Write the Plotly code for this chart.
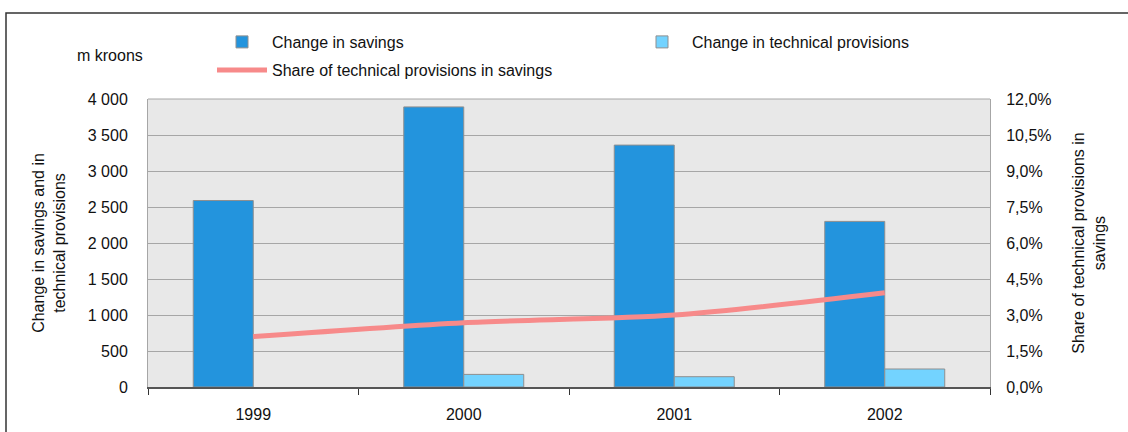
import plotly.graph_objects as go

years = ["1999", "2000", "2001", "2002"]
change_savings = [2590, 3890, 3360, 2300]
change_tech = [None, 175, 143, 250]
share_tech = [0.021, 0.0268, 0.030, 0.0393]

left_ticks = [0, 500, 1000, 1500, 2000, 2500, 3000, 3500, 4000]
right_ticks = [0, 0.015, 0.03, 0.045, 0.06, 0.075, 0.09, 0.105, 0.12]

FONT = "Liberation Sans, Arial, sans-serif"
FS = 16
W, H = 1128, 432
L, R, T, B = 148, 138, 99, 45
PW, PH = W - L - R, H - T - B


def px_x(p):
    return (p - L) / PW


def px_y(p):
    return (H - B - p) / PH


def leg(x, y):
    return dict(
        orientation="h", x=px_x(x), xanchor="left",
        y=px_y(y), yanchor="middle", itemwidth=50,
        font=dict(family=FONT, size=FS, color="#111111"),
        bgcolor="rgba(0,0,0,0)", itemclick=False, itemdoubleclick=False,
    )


fig = go.Figure()
fig.add_trace(go.Bar(
    x=years, y=change_savings, name="Change in savings",
    marker=dict(color="#2394DD", line=dict(color="#8f8f8f", width=1)),
    legend="legend",
))
fig.add_trace(go.Bar(
    x=years, y=change_tech, name="Change in technical provisions",
    marker=dict(color="#73D3FF", line=dict(color="#8f8f8f", width=1)),
    legend="legend3",
))
fig.add_trace(go.Scatter(
    x=years, y=share_tech, name="Share of technical provisions in savings",
    yaxis="y2", mode="lines",
    line=dict(color="#F78A8A", width=5, shape="spline", smoothing=0.8),
    legend="legend2",
))

fig.update_layout(
    width=W, height=H,
    margin=dict(l=L, r=R, t=T, b=B, autoexpand=False),
    paper_bgcolor="white",
    plot_bgcolor="#E8E8E8",
    font=dict(family=FONT, size=FS, color="#111111"),
    separators=", ",
    barmode="group",
    bargap=0.43,
    bargroupgap=0,
    showlegend=True,
    legend=leg(212, 42),
    legend3=leg(632, 42),
    legend2=leg(212, 70),
    xaxis=dict(
        type="category",
        tickson="boundaries",
        ticks="outside", ticklen=6, tickcolor="#333333", tickwidth=1,
        showline=True, linecolor="#555555", linewidth=2,
        showgrid=False,
        ticklabelstandoff=12,
        tickfont=dict(family=FONT, size=FS, color="#111111"),
    ),
    yaxis=dict(
        range=[0, 4000], tickvals=left_ticks,
        tickformat=",d",
        showgrid=True, gridcolor="#A6A6A6", gridwidth=1,
        showline=True, linecolor="#A6A6A6", linewidth=1,
        zeroline=False, ticks="", ticklabelstandoff=16,
        tickfont=dict(family=FONT, size=FS, color="#111111"),
        title=dict(text="Change in savings and in<br>technical provisions",
                   font=dict(family=FONT, size=FS, color="#111111"),
                   standoff=18),
    ),
    yaxis2=dict(
        range=[0, 0.12], tickvals=right_ticks, tickformat=".1%",
        overlaying="y", side="right",
        showgrid=False, zeroline=False,
        showline=True, linecolor="#A6A6A6", linewidth=1,
        ticks="", ticklabelstandoff=12,
        tickfont=dict(family=FONT, size=FS, color="#111111"),
        title=dict(text="Share of technical provisions in<br>savings",
                   font=dict(family=FONT, size=FS, color="#111111"),
                   standoff=22),
    ),
    annotations=[
        dict(text="m kroons", xref="paper", yref="paper",
             x=px_x(110), y=px_y(55), xanchor="center", yanchor="middle",
             showarrow=False, font=dict(family=FONT, size=FS, color="#111111")),
    ],
    shapes=[
        dict(type="line", xref="paper", yref="paper", x0=0, x1=1, y0=1, y1=1,
             line=dict(color="#A6A6A6", width=1)),
        dict(type="rect", xref="paper", yref="paper",
             x0=px_x(6), x1=px_x(1140), y0=px_y(13), y1=px_y(440),
             line=dict(color="#333333", width=1.5), layer="below"),
    ],
)

fig.write_html("out.html")
